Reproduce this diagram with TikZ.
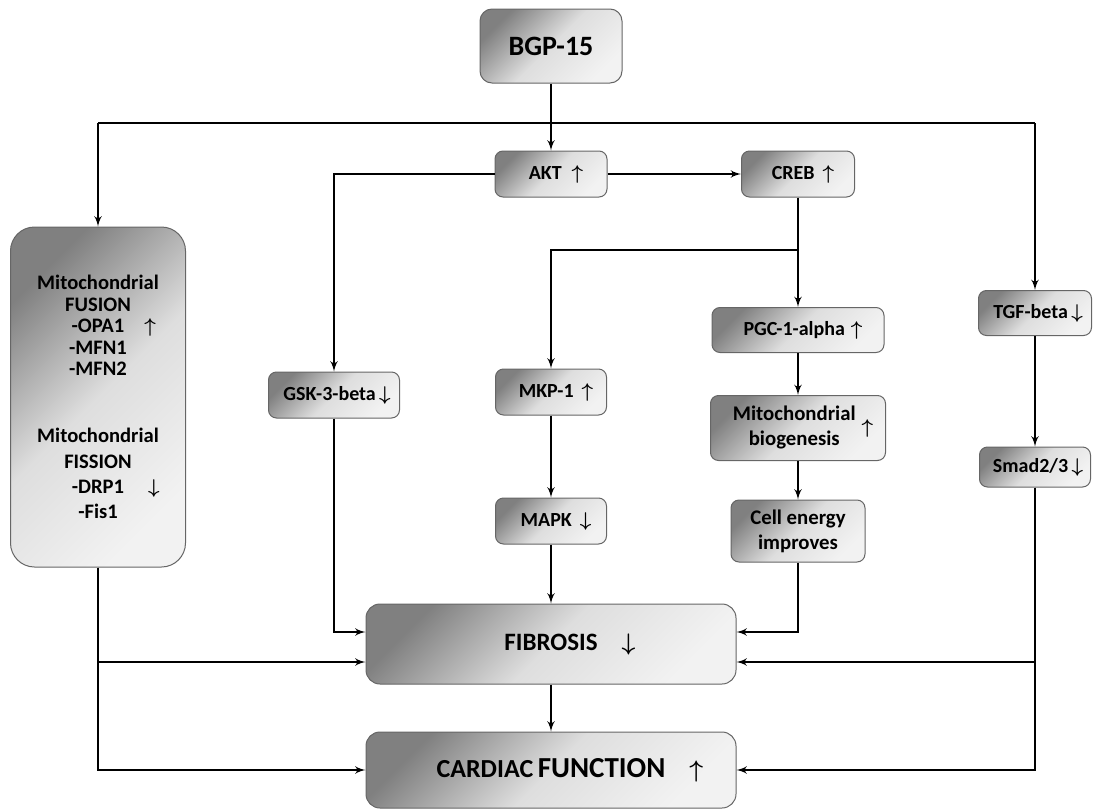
\documentclass[tikz,border=0pt]{standalone}
\usepackage{fontspec}
\setmainfont{Carlito}
\usetikzlibrary{arrows, positioning}

\newcommand{\upar}{{\boldmath$\uparrow$}}
\newcommand{\dnar}{{\boldmath$\downarrow$}}

\begin{document}
\begin{tikzpicture}[
            x=0.5pt, y=-0.5pt,
            font=\bfseries\fontsize{10}{12}\selectfont,
            block/.style={rectangle, draw=black!60, line width=0.5pt, rounded corners=4pt, top color=black!50, bottom color=black!5, middle color=black!13, shading angle=45, align=center, inner sep=2pt},
            bigblock/.style={block, rounded corners=7pt, minimum width=185pt},
            line/.style={draw, -latex', line width=0.8pt}
        ]
            \useasboundingbox (0,0) rectangle (1094,809);

            % Nodes
            \node [block, rounded corners=6pt, minimum width=71pt, minimum height=37pt, font=\bfseries\fontsize{14}{16}\selectfont] (bgp) at (551,46) {BGP-15};
            \node [block, minimum width=56pt, minimum height=23pt] (akt) at (551,174) {\hspace{5pt}AKT\hspace{5pt}\upar};
            \node [block, minimum width=56.5pt, minimum height=23pt] (creb) at (798,174) {\hspace{5pt}CREB\hspace{4pt}\upar};
            \node [block, minimum width=65.5pt, minimum height=23pt] (gsk) at (334,395) {\hspace{3pt}GSK-3-beta\,\dnar};
            \node [block, minimum width=55.5pt, minimum height=23pt] (mkp) at (551,392) {\hspace{5pt}MKP-1\hspace{4pt}\upar};
            \node [block, minimum width=55.5pt, minimum height=23pt] (mapk) at (551,521) {\hspace{5pt}MAPK\hspace{4pt}\dnar};
            \node [block, minimum width=86pt, minimum height=22.5pt] (pgc) at (798,330) {\hspace{5pt}PGC-1-alpha\hspace{3pt}\upar};
            \node [block, minimum width=87.5pt, minimum height=32.5pt, font=\bfseries\fontsize{10.4}{12.5}\selectfont] (bio) at (798,428) {\hspace{5pt}\begin{tabular}{@{}c@{}}Mitochondrial\\biogenesis\end{tabular}\hspace{3pt}\upar};
            \node [block, minimum width=67pt, minimum height=31pt, font=\bfseries\fontsize{10.4}{12.5}\selectfont] (energy) at (798,531) {Cell energy\\improves};
            \node [block, minimum width=56.5pt, minimum height=22.5pt] (tgf) at (1035,313) {\hspace{3pt}TGF-beta\,\dnar};
            \node [block, minimum width=55.5pt, minimum height=20pt] (smad) at (1035,467) {\hspace{3pt}Smad2/3\,\dnar};

            % Mitochondria
            \node [block, rounded corners=12pt, minimum width=87.5pt, minimum height=170pt, font=\bfseries\fontsize{10.3}{10.75}\selectfont] (mito) at (98,397) {Mitochondrial\\FUSION\\-OPA1\rlap{\hspace{10pt}\upar}\\-MFN1\\-MFN2\\[22.9pt]Mitochondrial\\[1.9pt]FISSION\\[1.9pt]-DRP1\rlap{\hspace{12pt}\dnar}\\[1.9pt]-Fis1};

            % End points
            \node [bigblock, minimum height=40pt, font=\bfseries\fontsize{12.5}{15}\selectfont] (fib) at (551,644) {FIBROSIS\rlap{\hspace{12pt}\dnar}};
            \node [bigblock, minimum height=38pt] (card) at (551,770) {{\fontsize{13}{15}\selectfont CARDIAC} {\fontsize{14.5}{17}\selectfont FUNCTION}\rlap{\fontsize{13}{15}\selectfont\hspace{12pt}\upar}};

            % Branch points
            \coordinate (busL) at (98,123);
            \coordinate (busR) at (1035,123);
            \coordinate (split) at (798,250);

            % Edges
            \draw [line width=0.8pt] (busL) -- (busR);
            \path [line] (busL) -- (mito);
            \path [line] (busR) -- (tgf);
            \path [line] (bgp) -- (akt);
            \path [line] (akt) -- (creb);
            \path [line] (akt) -| (gsk);
            \path [line] (creb) -- (pgc);
            \path [line] (split) -| (mkp);
            \path [line] (pgc) -- (bio);
            \path [line] (bio) -- (energy);
            \path [line] (tgf) -- (smad);
            \path [line] (mkp) -- (mapk);
            \path [line] (mapk) -- (fib);
            \path [line] (gsk) |- ([yshift=6pt]fib.west);
            \path [line] (energy) |- ([yshift=6pt]fib.east);
            \path [line] (mito) |- ([yshift=-9pt]fib.west);
            \path [line] (mito) |- (card.west);
            \path [line] (smad) |- ([yshift=-9pt]fib.east);
            \path [line] (smad) |- (card.east);
            \path [line] (fib) -- (card);
        \end{tikzpicture}
\end{document}
